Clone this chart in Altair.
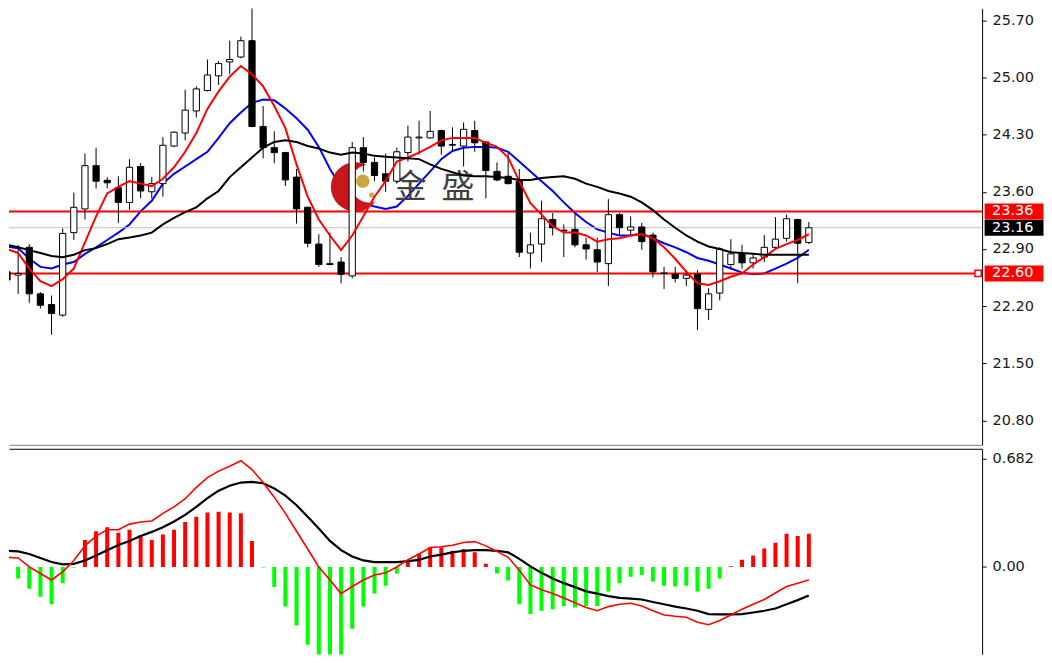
import altair as alt
import pandas as pd

# ---------------- data ----------------
idx = list(range(-1, 72))

open_ = [22.62, 22.58, 22.92, 22.35, 22.22, 22.09, 23.10, 23.39, 23.92, 23.74,
         23.65, 23.47, 23.91, 23.60, 23.70, 24.16, 24.32, 24.59, 24.84, 25.02,
         25.19, 25.25, 25.45, 24.40, 24.14, 24.08, 23.78, 23.41, 22.96, 22.72,
         22.74, 22.57, 24.14, 23.96, 23.82, 23.73, 24.08, 24.26, 24.26, 24.35,
         24.17, 24.16, 24.35, 24.21, 23.85, 23.79, 23.73, 22.85, 22.96, 23.26,
         23.13, 23.14, 22.95, 22.89, 22.72, 23.32, 23.13, 23.17, 23.07, 22.605,
         22.59, 22.54, 22.59, 22.16, 22.36, 22.71, 22.84, 22.73, 22.80, 22.92,
         23.03, 23.26, 22.98]
high = [22.66, 22.95, 22.96, 22.37, 22.33, 23.15, 23.59, 24.07, 24.14, 23.78,
        23.79, 24.00, 23.95, 23.78, 24.27, 24.34, 24.85, 24.89, 25.22, 25.20,
        25.45, 25.50, 25.95, 24.65, 24.34, 24.09, 23.88, 23.42, 23.08, 23.10,
        22.80, 24.21, 24.27, 24.02, 24.07, 24.14, 24.41, 24.47, 24.59, 24.36,
        24.39, 24.45, 24.47, 24.22, 23.96, 24.08, 23.88, 23.10, 23.49, 23.34,
        23.20, 23.34, 23.04, 23.04, 23.51, 23.34, 23.30, 23.22, 23.10, 22.68,
        22.68, 22.64, 22.64, 22.42, 22.92, 23.02, 22.95, 22.85, 23.07, 23.29,
        23.32, 23.27, 23.23]
low = [22.47, 22.35, 22.24, 22.17, 21.85, 22.07, 23.01, 23.26, 23.64, 23.64,
       23.22, 23.38, 23.52, 23.52, 23.54, 24.15, 24.23, 24.51, 24.83, 24.91,
       25.04, 25.235, 24.39, 24.01, 23.95, 23.67, 23.21, 22.92, 22.68, 22.70,
       22.48, 22.54, 23.85, 23.73, 23.60, 23.70, 23.97, 24.055, 24.25, 24.055,
       24.09, 23.91, 24.09, 23.52, 23.73, 23.69, 22.80, 22.66, 22.74, 23.065,
       22.80, 22.92, 22.77, 22.62, 22.445, 23.065, 23.065, 22.89, 22.55, 22.41,
       22.49, 22.445, 21.91, 22.03, 22.27, 22.66, 22.66, 22.66, 22.74, 22.90,
       22.99, 22.48, 22.96]
close = [22.52, 22.60, 22.35, 22.21, 22.11, 23.09, 23.41, 23.92, 23.73, 23.71,
         23.47, 23.90, 23.61, 23.70, 24.17, 24.33, 24.60, 24.86, 25.03, 25.17,
         25.22, 25.45, 24.40, 24.14, 24.08, 23.745, 23.39, 22.97, 22.71, 22.71,
         22.59, 24.14, 23.96, 23.80, 23.73, 24.09, 24.27, 24.27, 24.34, 24.16,
         24.18, 24.365, 24.20, 23.86, 23.745, 23.70, 22.86, 22.95, 23.27, 23.16,
         23.12, 22.95, 22.90, 22.74, 23.32, 23.16, 23.17, 22.99, 22.62, 22.60,
         22.54, 22.58, 22.17, 22.35, 22.90, 22.84, 22.73, 22.79, 22.92, 23.02,
         23.27, 22.97, 23.16]

ma_fast = [22.90, 22.85, 22.66, 22.505, 22.445, 22.53, 22.66, 22.98, 23.30, 23.58,
           23.66, 23.73, 23.70, 23.67, 23.76, 23.90, 24.09, 24.32, 24.615, 24.83,
           25.01, 25.14, 25.04, 24.89, 24.65, 24.38, 23.935, 23.54, 23.26, 23.065,
           22.886, 23.065, 23.30, 23.54, 23.73, 23.97, 24.02, 24.08, 24.15, 24.23,
           24.26, 24.26, 24.26, 24.20, 24.15, 24.02, 23.73, 23.46, 23.32, 23.18,
           23.10, 23.10, 23.065, 22.99, 23.02, 23.03, 23.065, 23.08, 23.03, 22.92,
           22.78, 22.62, 22.48, 22.46, 22.505, 22.56, 22.60, 22.71, 22.80, 22.90,
           22.96, 23.01, 23.08]
ma_mid = [22.93, 22.91, 22.78, 22.68, 22.66, 22.71, 22.74, 22.84, 22.92, 23.01,
          23.10, 23.20, 23.36, 23.49, 23.70, 23.82, 23.91, 24.00, 24.09, 24.26,
          24.44, 24.57, 24.69, 24.73, 24.72, 24.62, 24.50, 24.36, 24.15, 23.88,
          23.66, 23.52, 23.46, 23.42, 23.39, 23.42, 23.55, 23.70, 23.85, 24.00,
          24.10, 24.14, 24.15, 24.15, 24.14, 24.09, 23.97, 23.85, 23.73, 23.61,
          23.47, 23.34, 23.23, 23.14, 23.10, 23.065, 23.065, 23.09, 23.03, 22.97,
          22.92, 22.86, 22.79, 22.755, 22.71, 22.66, 22.61, 22.59, 22.60, 22.66,
          22.72, 22.79, 22.89]
ma_slow = [22.95, 22.92, 22.886, 22.85, 22.815, 22.80, 22.83, 22.886, 22.91, 22.96,
           23.02, 23.04, 23.065, 23.10, 23.20, 23.28, 23.35, 23.41, 23.52, 23.61,
           23.78, 23.90, 24.02, 24.14, 24.21, 24.23, 24.21, 24.16, 24.13, 24.08,
           24.055, 24.08, 24.07, 24.04, 24.03, 24.02, 24.01, 24.00, 23.935, 23.88,
           23.84, 23.80, 23.79, 23.79, 23.78, 23.77, 23.745, 23.745, 23.77, 23.78,
           23.79, 23.76, 23.70, 23.66, 23.61, 23.58, 23.54, 23.47, 23.375, 23.26,
           23.16, 23.065, 22.99, 22.93, 22.90, 22.86, 22.85, 22.84, 22.83, 22.83,
           22.83, 22.83, 22.83]

macd_hist = [-0.10, -0.072, -0.137, -0.188, -0.235, -0.102, -0.004, 0.17, 0.225, 0.25,
             0.215, 0.235, 0.20, 0.17, 0.205, 0.235, 0.283, 0.317, 0.344, 0.348,
             0.344, 0.338, 0.164, -0.004, -0.127, -0.25, -0.369, -0.49, -0.60, -0.62,
             -0.58, -0.389, -0.25, -0.168, -0.119, -0.041, 0.04, 0.085, 0.125, 0.123,
             0.102, 0.113, 0.092, 0.02, -0.041, -0.086, -0.235, -0.297, -0.276, -0.266,
             -0.246, -0.256, -0.246, -0.246, -0.154, -0.102, -0.061, -0.051, -0.092, -0.119,
             -0.123, -0.119, -0.154, -0.137, -0.072, 0.004, 0.045, 0.072, 0.117, 0.152,
             0.209, 0.195, 0.209]
macd_line = [0.061, 0.057, 0.0, -0.041, -0.082, -0.031, 0.041, 0.133, 0.195, 0.235,
             0.235, 0.27, 0.283, 0.29, 0.338, 0.379, 0.43, 0.502, 0.563, 0.604,
             0.635, 0.67, 0.614, 0.532, 0.44, 0.338, 0.225, 0.113, 0.0, -0.082,
             -0.168, -0.123, -0.082, -0.051, -0.037, 0.0, 0.046, 0.082, 0.123, 0.127,
             0.137, 0.154, 0.16, 0.133, 0.098, 0.061, -0.02, -0.113, -0.143, -0.168,
             -0.195, -0.225, -0.256, -0.276, -0.25, -0.235, -0.229, -0.246, -0.276, -0.303,
             -0.311, -0.317, -0.348, -0.364, -0.338, -0.303, -0.266, -0.235, -0.205, -0.164,
             -0.123, -0.102, -0.082]
signal_line = [0.102, 0.098, 0.082, 0.057, 0.031, 0.016, 0.02, 0.041, 0.072, 0.106,
               0.139, 0.164, 0.195, 0.221, 0.25, 0.287, 0.328, 0.379, 0.434, 0.481,
               0.512, 0.532, 0.536, 0.528, 0.495, 0.45, 0.389, 0.317, 0.242, 0.164,
               0.106, 0.066, 0.041, 0.031, 0.031, 0.031, 0.037, 0.045, 0.066, 0.078,
               0.092, 0.102, 0.106, 0.106, 0.102, 0.092, 0.051, 0.004, -0.037, -0.072,
               -0.102, -0.127, -0.154, -0.168, -0.184, -0.195, -0.199, -0.205, -0.221, -0.235,
               -0.25, -0.262, -0.276, -0.297, -0.299, -0.299, -0.297, -0.287, -0.276, -0.262,
               -0.235, -0.209, -0.18]

price_ticks = [20.80, 21.50, 22.20, 22.90, 23.60, 24.30, 25.00, 25.70]
macd_ticks = [0.682, 0.0]
level_values = [23.36, 22.60]
last_price = 23.16
box_labels = ["23.36", "23.16", "22.60"]
box_values = [23.36, 23.16, 22.60]
box_colors = ["#ff0000", "#000000", "#ff0000"]
watermark_chars = ["金", "盛"]
watermark_idx = [35.2, 39.5]
watermark_price = 23.65

# ---------------- layout ----------------
W = 975
H1 = 437
H2 = 206
X_DOMAIN = [-0.82, 86.56]
P_DOMAIN = [20.502, 25.843]
M_DOMAIN = [-0.551, 0.745]
FONT = "DejaVu Sans"
FS = 14.5

df = pd.DataFrame(dict(i=idx, o=open_, h=high, l=low, c=close,
                       f=ma_fast, m=ma_mid, s=ma_slow,
                       hist=macd_hist, macd=macd_line, sig=signal_line))
df["blo"] = df[["o", "c"]].min(axis=1)
df["bhi"] = df[["o", "c"]].max(axis=1)
df["up"] = df["c"] >= df["o"]
df["bx1"] = df["i"] - 0.28
df["bx2"] = df["i"] + 0.28
df["hx1"] = df["i"] - 0.18
df["hx2"] = df["i"] + 0.18
df["zero"] = 0.0

xs = alt.Scale(domain=X_DOMAIN, nice=False, zero=False)
ps = alt.Scale(domain=P_DOMAIN, nice=False, zero=False)
ms = alt.Scale(domain=M_DOMAIN, nice=False, zero=False)

x_axis_price = alt.Axis(orient="bottom", labels=False, ticks=False, grid=False,
                        domain=True, domainColor="#808080", title=None)
x_axis_macd = alt.Axis(orient="top", labels=False, ticks=False, grid=False,
                       domain=True, domainColor="#000000", title=None)
y_axis_price = alt.Axis(orient="right", values=price_ticks, format=".2f", grid=False,
                        domainColor="#000000", tickColor="#000000", tickSize=4,
                        labelPadding=6, labelFont=FONT, labelFontSize=FS,
                        labelColor="#1a1a1a", title=None)
y_axis_macd = alt.Axis(orient="right", values=macd_ticks, grid=False,
                       labelExpr="datum.value == 0 ? '0.00' : format(datum.value, '.3f')",
                       domainColor="#000000", tickColor="#000000", tickSize=4,
                       labelPadding=6, labelFont=FONT, labelFontSize=FS,
                       labelColor="#1a1a1a", title=None)


def PX(field):
    return alt.X(field, type="quantitative", scale=xs, axis=x_axis_price)


def PY(field):
    return alt.Y(field, type="quantitative", scale=ps, axis=y_axis_price)


base = alt.Chart(df)

# moving average (blue) drawn below the watermark
ma_blue = base.mark_line(color="#0000ff", strokeWidth=2, clip=True).encode(x=PX("i"), y=PY("m"))

# watermark logo (crescent + gold ball)
logo_df = pd.DataFrame(dict(i=[30.3, 31.55, 30.95, 31.75], p=[23.66, 23.70, 23.73, 23.56],
                            part=["outer", "inner", "ball", "swoosh"]))
logo_outer = alt.Chart(logo_df).transform_filter("datum.part == 'outer'").mark_point(
    shape="circle", filled=True, size=2450, color="#c8161d", opacity=1).encode(x=PX("i"), y=PY("p"))
logo_inner = alt.Chart(logo_df).transform_filter("datum.part == 'inner'").mark_point(
    shape="circle", filled=True, size=1450, color="#ffffff", opacity=1).encode(x=PX("i"), y=PY("p"))
logo_ball = alt.Chart(logo_df).transform_filter("datum.part == 'ball'").mark_point(
    shape="circle", filled=True, size=180, color="#c9a640", opacity=1).encode(x=PX("i"), y=PY("p"))
logo_swoosh = alt.Chart(logo_df).transform_filter("datum.part == 'swoosh'").mark_point(
    shape="circle", filled=True, size=30, color="#c9a640", opacity=0.9).encode(x=PX("i"), y=PY("p"))

wm_df = pd.DataFrame(dict(i=watermark_idx, p=[watermark_price] * 2, t=watermark_chars))
watermark = alt.Chart(wm_df).mark_text(font="Noto Sans CJK SC", fontSize=33, color="#404040",
                                       baseline="middle", align="center").encode(
    x=PX("i"), y=PY("p"), text="t:N")

# horizontal levels
lv_df = pd.DataFrame(dict(v=level_values))
levels = alt.Chart(lv_df).mark_rule(color="#ff0000", strokeWidth=2).encode(y=PY("v"))
lp_df = pd.DataFrame(dict(v=[last_price]))
last_line = alt.Chart(lp_df).mark_rule(color="#c0c0c0", strokeWidth=1).encode(y=PY("v"))
mk_df = pd.DataFrame(dict(i=[86.2], v=[level_values[1]]))
marker = alt.Chart(mk_df).mark_point(shape="square", size=40, filled=True, fill="#ffffff",
                                     stroke="#ff0000", strokeWidth=1.5, opacity=1).encode(
    x=PX("i"), y=PY("v"))

# candles
wicks = base.mark_rule(color="#000000", strokeWidth=1, clip=True).encode(
    x=PX("i"), y=PY("l"), y2="h")
bodies = base.mark_rect(stroke="#000000", strokeWidth=1, clip=True).encode(
    x=PX("bx1"), x2="bx2", y=PY("blo"), y2="bhi",
    fill=alt.condition("datum.up", alt.value("#ffffff"), alt.value("#000000")))

ma_red = base.mark_line(color="#ff0000", strokeWidth=2, clip=True).encode(x=PX("i"), y=PY("f"))
ma_black = base.mark_line(color="#000000", strokeWidth=2, clip=True).encode(x=PX("i"), y=PY("s"))

# right-side value boxes
bx_df = pd.DataFrame(dict(t=box_labels, v=box_values, col=box_colors))
boxes = alt.Chart(bx_df).mark_tick(orient="horizontal", size=59, thickness=16, opacity=1).encode(
    x=alt.value(W + 32), y=PY("v"), color=alt.Color("col:N", scale=None))
box_text = alt.Chart(bx_df).mark_text(align="left", baseline="middle", font=FONT, fontSize=FS,
                                      color="#ffffff").encode(
    x=alt.value(W + 10), y=PY("v"), text="t:N")

price_panel = alt.layer(
    ma_blue, logo_outer, logo_inner, logo_ball, logo_swoosh, watermark, last_line, levels,
    wicks, bodies, ma_red, ma_black, marker, boxes, box_text
).properties(width=W, height=H1)


# MACD panel
def MX(field):
    return alt.X(field, type="quantitative", scale=xs, axis=x_axis_macd)


def MY(field):
    return alt.Y(field, type="quantitative", scale=ms, axis=y_axis_macd)


hist = base.mark_rect(clip=True).encode(
    x=MX("hx1"), x2="hx2", y=MY("hist"), y2="zero",
    color=alt.condition("datum.hist >= 0", alt.value("#ff0000"), alt.value("#00ff00")))
sig = base.mark_line(color="#000000", strokeWidth=2.2, clip=True).encode(x=MX("i"), y=MY("sig"))
mline = base.mark_line(color="#ff0000", strokeWidth=1.6, clip=True).encode(x=MX("i"), y=MY("macd"))

macd_panel = alt.layer(hist, sig, mline).properties(width=W, height=H2)

chart = alt.vconcat(price_panel, macd_panel, spacing=4).properties(
    padding=0, background="#ffffff"
).configure_view(stroke=None)

chart.save("out.html", embed_options={"renderer": "svg", "actions": False})
